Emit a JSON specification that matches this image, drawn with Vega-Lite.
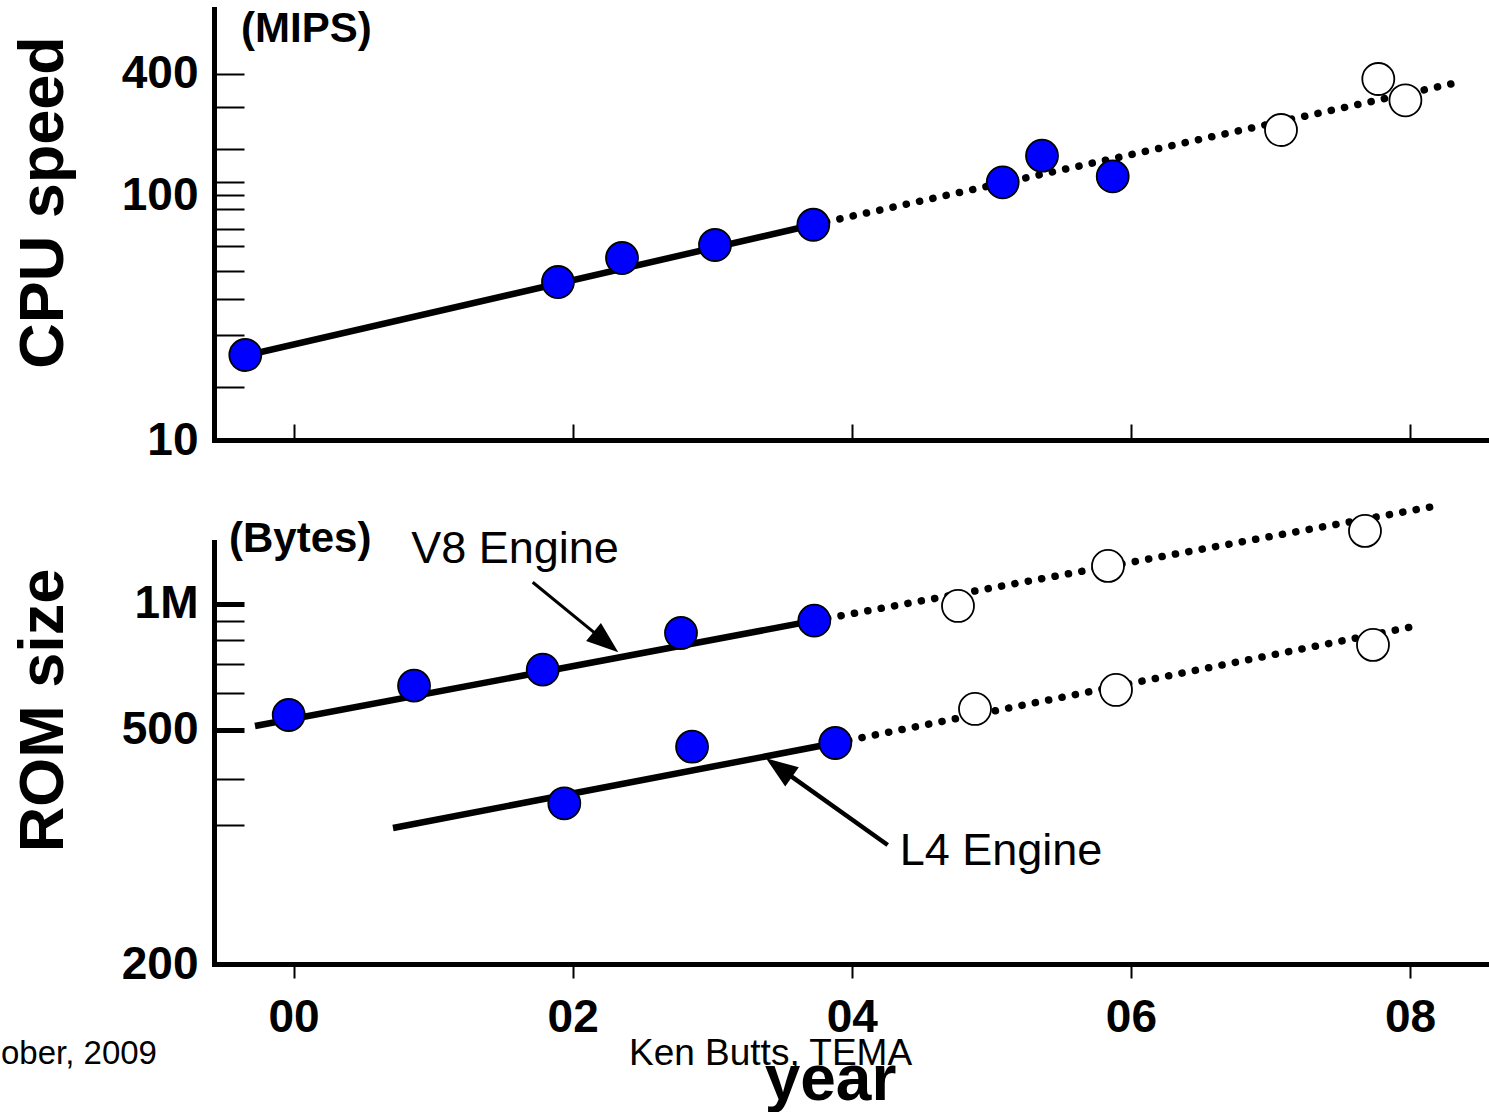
{
  "$schema": "https://vega.github.io/schema/vega-lite/v6.json",
  "background": "white",
  "padding": {"left": 0, "top": 8, "right": 0, "bottom": 0},
  "bounds": "flush",
  "spacing": 102,
  "config": {
    "view": {"stroke": null},
    "font": "Liberation Sans",
    "axis": {
      "grid": false,
      "domainColor": "black",
      "domainWidth": 5,
      "domainCap": "square",
      "tickColor": "black",
      "labelColor": "black",
      "titleColor": "black",
      "labelFont": "Liberation Sans",
      "titleFont": "Liberation Sans"
    }
  },
  "resolve": {"scale": {"x": "independent", "y": "independent"}},
  "datasets": {
    "cpu": [
      {"year": -0.346, "mips": 20.92, "kind": "measured"},
      {"year": 1.8946, "mips": 41.42, "kind": "measured"},
      {"year": 2.3533, "mips": 52.42, "kind": "measured"},
      {"year": 3.0197, "mips": 59.72, "kind": "measured"},
      {"year": 3.7241, "mips": 73.4, "kind": "measured"},
      {"year": 5.0813, "mips": 114.8, "kind": "measured"},
      {"year": 5.363, "mips": 153.7, "kind": "measured"},
      {"year": 5.8696, "mips": 122.5, "kind": "measured"},
      {"year": 7.0756, "mips": 205.5, "kind": "projected"},
      {"year": 7.7728, "mips": 376.0, "kind": "projected"},
      {"year": 7.967, "mips": 290.8, "kind": "projected"}
    ],
    "cpuTrend": [
      {"year": -0.346, "mips": 20.8, "segment": "fit"},
      {"year": 3.7241, "mips": 73.4, "segment": "fit"},
      {"year": 3.7241, "mips": 73.4, "segment": "extrapolation"},
      {"year": 8.3798, "mips": 365.6, "segment": "extrapolation"}
    ],
    "cpuNotes": [
      {"label": "(MIPS)", "year": -0.3769, "mips": 707.3}
    ],
    "rom": [
      {"engine": "V8", "year": -0.0351, "kbytes": 537.3, "kind": "measured"},
      {"engine": "V8", "year": 0.8631, "kbytes": 623.5, "kind": "measured"},
      {"engine": "V8", "year": 1.785, "kbytes": 679.0, "kind": "measured"},
      {"engine": "V8", "year": 2.776, "kbytes": 836.0, "kind": "measured"},
      {"engine": "V8", "year": 3.7311, "kbytes": 900.3, "kind": "measured"},
      {"engine": "V8", "year": 4.761, "kbytes": 986.6, "kind": "projected"},
      {"engine": "V8", "year": 5.8359, "kbytes": 1290.8, "kind": "projected"},
      {"engine": "V8", "year": 7.6774, "kbytes": 1678.7, "kind": "projected"},
      {"engine": "L4", "year": 1.9398, "kbytes": 360.5, "kind": "measured"},
      {"engine": "L4", "year": 2.8553, "kbytes": 462.0, "kind": "measured"},
      {"engine": "L4", "year": 3.8818, "kbytes": 470.0, "kind": "measured"},
      {"engine": "L4", "year": 4.8828, "kbytes": 553.6, "kind": "projected"},
      {"engine": "L4", "year": 5.8932, "kbytes": 609.7, "kind": "projected"},
      {"engine": "L4", "year": 7.7347, "kbytes": 779.6, "kind": "projected"}
    ],
    "romTrend": [
      {"engine": "V8", "segment": "fit", "year": -0.2766, "kbytes": 509.4},
      {"engine": "V8", "segment": "fit", "year": 3.7311, "kbytes": 900.3},
      {"engine": "V8", "segment": "extrapolation", "year": 3.7311, "kbytes": 900.3},
      {"engine": "V8", "segment": "extrapolation", "year": 8.1505, "kbytes": 2047.7},
      {"engine": "L4", "segment": "fit", "year": 0.7123, "kbytes": 326.0},
      {"engine": "L4", "segment": "fit", "year": 3.8818, "kbytes": 470.0},
      {"engine": "L4", "segment": "extrapolation", "year": 3.8818, "kbytes": 470.0},
      {"engine": "L4", "segment": "extrapolation", "year": 8.0789, "kbytes": 877.1}
    ],
    "romArrows": [
      {"engine": "V8", "year": 1.7134, "kbytes": 1152.6, "year2": 2.2379, "kbytes2": 792.3},
      {"engine": "L4", "year": 4.2573, "kbytes": 304.9, "year2": 3.4783, "kbytes2": 420.3}
    ],
    "romNotes": [
      {"role": "engine", "label": "V8 Engine", "year": 1.5865, "kbytes": 1461.2},
      {"role": "engine", "label": "L4 Engine", "year": 5.0691, "kbytes": 297.9},
      {"role": "unit", "label": "(Bytes)", "year": -0.4629, "kbytes": 1576.8},
      {"role": "date", "label": "ober, 2009", "year": -2.0968, "kbytes": 151.8},
      {"role": "author", "label": "Ken Butts, TEMA", "year": 3.4174, "kbytes": 151.8}
    ]
  },
  "vconcat": [
    {
      "width": 1276,
      "height": 431,
      "encoding": {
        "x": {
          "field": "year", "type": "quantitative",
          "scale": {"domain": [-0.5704, 8.5732], "nice": false, "zero": false},
          "axis": {"values": [0, 2, 4, 6, 8], "labels": false, "tickSize": -16, "tickWidth": 2, "title": null}
        },
        "y": {
          "field": "mips", "type": "quantitative",
          "scale": {"type": "pow", "exponent": -0.105, "domain": [10, 922], "nice": false, "zero": false},
          "axis": {
            "values": [10, 15.7, 25.1, 35.2, 46.1, 59.1, 70.3, 86.4, 100, 115.2, 165.7, 268.6, 400],
            "tickSize": -30, "tickWidth": 2, "labelPadding": 46,
            "labelExpr": "datum.value == 10 ? '10' : datum.value == 100 ? '100' : datum.value == 400 ? '400' : ''",
            "labelFontSize": 46, "labelFontWeight": "bold",
            "labelOverlap": false, "labelBound": false, "labelFlush": false,
            "title": "CPU speed", "titleFontSize": 63, "titleFontWeight": "bold",
            "titleAngle": 270, "titleX": -152, "titleY": 193, "titleAlign": "center", "titleBaseline": "alphabetic"
          }
        }
      },
      "layer": [
        {
          "data": {"name": "cpuTrend"},
          "transform": [{"filter": "datum.segment == 'fit'"}],
          "mark": {"type": "line", "color": "black", "strokeWidth": 6.5, "strokeCap": "round", "clip": false}
        },
        {
          "data": {"name": "cpuTrend"},
          "transform": [{"filter": "datum.segment == 'extrapolation'"}],
          "mark": {"type": "line", "color": "black", "strokeWidth": 7.5, "strokeCap": "round", "strokeDash": [0.1, 13.5], "clip": false}
        },
        {
          "data": {"name": "cpu"},
          "mark": {"type": "point", "shape": "circle", "size": 1024, "filled": true, "stroke": "black", "strokeWidth": 1.8, "opacity": 1, "clip": false},
          "encoding": {
            "fill": {"field": "kind", "type": "nominal", "scale": {"domain": ["measured", "projected"], "range": ["#0000ff", "#ffffff"]}, "legend": null}
          }
        },
        {
          "data": {"name": "cpuNotes"},
          "mark": {"type": "text", "align": "left", "baseline": "middle", "fontSize": 42, "fontWeight": "bold", "color": "black", "clip": false},
          "encoding": {"text": {"field": "label"}}
        }
      ]
    },
    {
      "width": 1276,
      "height": 422,
      "encoding": {
        "x": {
          "field": "year", "type": "quantitative",
          "scale": {"domain": [-0.5704, 8.5732], "nice": false, "zero": false},
          "axis": {
            "values": [0, 2, 4, 6, 8], "labelExpr": "'0' + datum.value",
            "tickSize": 14, "tickWidth": 2, "labelPadding": 17.5,
            "labelFontSize": 46, "labelFontWeight": "bold", "labelFlush": false, "labelOverlap": false,
            "title": "year", "titleFontSize": 64, "titleFontWeight": "bold",
            "titleX": 616, "titleY": 135, "titleAlign": "center", "titleBaseline": "alphabetic"
          }
        },
        "y": {
          "field": "kbytes", "type": "quantitative",
          "scale": {"type": "pow", "exponent": -0.42, "domain": [200, 1540], "nice": false, "zero": false},
          "axis": {
            "values": [200, 330, 400, 500, 600, 700, 800, 900, 1000],
            "tickSize": -30,
            "tickWidth": {"condition": {"test": "datum.value == 1000 || datum.value == 500", "value": 5}, "value": 2},
            "labelPadding": 46,
            "labelExpr": "datum.value == 1000 ? '1M' : datum.value == 500 ? '500' : datum.value == 200 ? '200' : ''",
            "labelFontSize": 46, "labelFontWeight": "bold",
            "labelOverlap": false, "labelBound": false, "labelFlush": false,
            "title": "ROM size", "titleFontSize": 63, "titleFontWeight": "bold",
            "titleAngle": 270, "titleX": -152, "titleY": 168, "titleAlign": "center", "titleBaseline": "alphabetic"
          }
        }
      },
      "layer": [
        {
          "data": {"name": "romTrend"},
          "transform": [{"filter": "datum.segment == 'fit'"}],
          "mark": {"type": "line", "color": "black", "strokeWidth": 6.5, "strokeCap": "butt", "clip": false},
          "encoding": {"detail": {"field": "engine"}}
        },
        {
          "data": {"name": "romTrend"},
          "transform": [{"filter": "datum.segment == 'extrapolation'"}],
          "mark": {"type": "line", "color": "black", "strokeWidth": 7.5, "strokeCap": "round", "strokeDash": [0.1, 13.5], "clip": false},
          "encoding": {"detail": {"field": "engine"}}
        },
        {
          "data": {"name": "romArrows"},
          "transform": [{"filter": "datum.engine == 'V8'"}],
          "mark": {"type": "rule", "color": "black", "strokeWidth": 3, "clip": false},
          "encoding": {"x2": {"field": "year2"}, "y2": {"field": "kbytes2"}}
        },
        {
          "data": {"name": "romArrows"},
          "transform": [{"filter": "datum.engine == 'L4'"}],
          "mark": {"type": "rule", "color": "black", "strokeWidth": 4.5, "clip": false},
          "encoding": {"x2": {"field": "year2"}, "y2": {"field": "kbytes2"}}
        },
        {
          "data": {"name": "romArrows"},
          "transform": [{"filter": "datum.engine == 'V8'"}],
          "mark": {"type": "point", "shape": "M0,-1L0.73,1L-0.73,1Z", "size": 1024, "angle": 129.3, "filled": true, "color": "black", "opacity": 1, "strokeWidth": 0, "clip": false},
          "encoding": {"x": {"field": "year2", "type": "quantitative"}, "y": {"field": "kbytes2", "type": "quantitative"}}
        },
        {
          "data": {"name": "romArrows"},
          "transform": [{"filter": "datum.engine == 'L4'"}],
          "mark": {"type": "point", "shape": "M0,-1L0.73,1L-0.73,1Z", "size": 1024, "angle": 305.5, "filled": true, "color": "black", "opacity": 1, "strokeWidth": 0, "clip": false},
          "encoding": {"x": {"field": "year2", "type": "quantitative"}, "y": {"field": "kbytes2", "type": "quantitative"}}
        },
        {
          "data": {"name": "rom"},
          "mark": {"type": "point", "shape": "circle", "size": 1024, "filled": true, "stroke": "black", "strokeWidth": 1.8, "opacity": 1, "clip": false},
          "encoding": {
            "fill": {"field": "kind", "type": "nominal", "scale": {"domain": ["measured", "projected"], "range": ["#0000ff", "#ffffff"]}, "legend": null}
          }
        },
        {
          "data": {"name": "romNotes"},
          "transform": [{"filter": "datum.role == 'engine'"}],
          "mark": {"type": "text", "align": "center", "baseline": "middle", "fontSize": 45, "color": "black", "clip": false},
          "encoding": {"text": {"field": "label"}}
        },
        {
          "data": {"name": "romNotes"},
          "transform": [{"filter": "datum.role == 'unit'"}],
          "mark": {"type": "text", "align": "left", "baseline": "middle", "fontSize": 42, "fontWeight": "bold", "color": "black", "clip": false},
          "encoding": {"text": {"field": "label"}}
        },
        {
          "data": {"name": "romNotes"},
          "transform": [{"filter": "datum.role == 'date'"}],
          "mark": {"type": "text", "align": "left", "baseline": "middle", "fontSize": 33, "color": "black", "clip": false},
          "encoding": {"text": {"field": "label"}}
        },
        {
          "data": {"name": "romNotes"},
          "transform": [{"filter": "datum.role == 'author'"}],
          "mark": {"type": "text", "align": "center", "baseline": "middle", "fontSize": 37, "color": "black", "clip": false},
          "encoding": {"text": {"field": "label"}}
        }
      ]
    }
  ]
}
